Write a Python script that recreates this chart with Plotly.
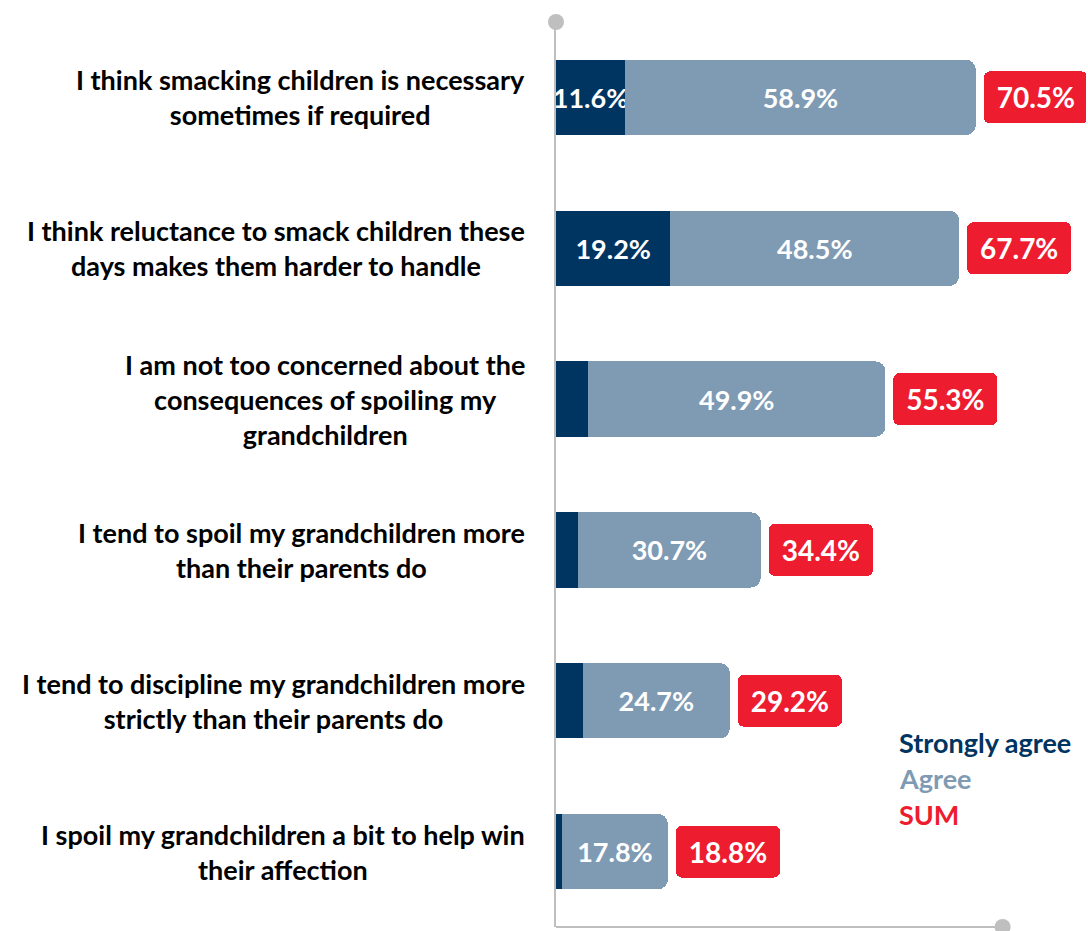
import plotly.graph_objects as go

# ---- data ----
categories = [
    "I think smacking children is necessary<br>sometimes if required",
    "I think reluctance to smack children these<br>days makes them harder to handle",
    "I am not too concerned about the<br>consequences of spoiling my<br>grandchildren",
    "I tend to spoil my grandchildren more<br>than their parents do",
    "I tend to discipline my grandchildren more<br>strictly than their parents do",
    "I spoil my grandchildren a bit to help win<br>their affection",
]
strongly_agree = [11.6, 19.2, 5.4, 3.7, 4.5, 1.0]
agree = [58.9, 48.5, 49.9, 30.7, 24.7, 17.8]
total = [70.5, 67.7, 55.3, 34.4, 29.2, 18.8]
sa_labels = ["11.6%", "19.2%", "", "", "", ""]
agree_labels = ["58.9%", "48.5%", "49.9%", "30.7%", "24.7%", "17.8%"]
sum_labels = ["70.5%", "67.7%", "55.3%", "34.4%", "29.2%", "18.8%"]
legend_items = ["Strongly agree", "Agree", "SUM"]

# ---- style ----
C_SA = "#003461"
C_AG = "#7F9BB4"
C_SUM = "#ED1C2E"
C_AXIS = "#BFBFBF"
FONT = "Lato"
FS = 27

W, H = 1088, 931
ML, MR, MT, MB = 556, 2, 22, 4
XMAX = 89.0
px_per_unit = (W - ML - MR) / XMAX
gap_units = 8 / px_per_unit
box_units = 104 / px_per_unit
axis_end = 75

ys = list(range(len(categories)))

fig = go.Figure()
fig.add_trace(go.Bar(
    y=ys, x=strongly_agree, orientation="h",
    marker=dict(color=C_SA, line=dict(width=0)), width=0.5,
    text=sa_labels, textposition="inside", insidetextanchor="middle",
    constraintext="none", textangle=0,
    textfont=dict(family=FONT, size=FS, color="white", weight="bold"),
    name="Strongly agree", hoverinfo="skip",
))
fig.add_trace(go.Bar(
    y=ys, x=agree, orientation="h",
    marker=dict(color=C_AG, line=dict(width=0)), width=0.5,
    text=agree_labels, textposition="inside", insidetextanchor="middle",
    constraintext="none", textangle=0,
    textfont=dict(family=FONT, size=FS, color="white", weight="bold"),
    name="Agree", hoverinfo="skip",
))
# SUM boxes on an overlaying axis so they don't affect the stack
fig.add_trace(go.Bar(
    y=ys, x=[box_units] * len(ys), base=[t + gap_units for t in total],
    orientation="h", yaxis="y2",
    marker=dict(color=C_SUM, line=dict(width=0), cornerradius=6), width=0.345,
    text=sum_labels, textposition="inside", insidetextanchor="middle",
    constraintext="none", textangle=0,
    textfont=dict(family=FONT, size=FS + 1, color="white", weight="bold"),
    name="SUM", hoverinfo="skip",
))

# category labels
for y, c in zip(ys, categories):
    fig.add_annotation(
        x=0, xref="paper", y=y, yref="y", text=c, showarrow=False,
        xanchor="right", yanchor="middle", align="center", xshift=-29,
        font=dict(family=FONT, size=FS, color="black", weight="bold"),
    )

# legend as text
leg_colors = [C_SA, C_AG, C_SUM]
plot_w = W - ML - MR
plot_h = H - MT - MB
for i, (t, col) in enumerate(zip(legend_items, leg_colors)):
    ypx = 742 + 36 * i
    fig.add_annotation(
        x=(897 - ML) / plot_w, xref="paper",
        y=(H - MB - ypx) / plot_h, yref="paper",
        text=t, showarrow=False, xanchor="left", yanchor="middle",
        font=dict(family=FONT, size=FS, color=col, weight="bold"),
    )

# axes decorations
end_paper = axis_end / XMAX
fig.add_shape(type="line", xref="paper", yref="paper", x0=0, x1=end_paper, y0=0, y1=0,
              line=dict(color=C_AXIS, width=2))
fig.add_shape(type="circle", xref="paper", yref="paper", xsizemode="pixel", ysizemode="pixel",
              xanchor=0, yanchor=1, x0=-8, x1=8, y0=-8, y1=8,
              fillcolor=C_AXIS, line=dict(width=0))
fig.add_shape(type="circle", xref="paper", yref="paper", xsizemode="pixel", ysizemode="pixel",
              xanchor=end_paper, yanchor=0, x0=-8, x1=8, y0=-8, y1=8,
              fillcolor=C_AXIS, line=dict(width=0))

yrange = [len(ys) - 0.5, -0.5]
fig.update_layout(
    width=W, height=H, margin=dict(l=ML, r=MR, t=MT, b=MB),
    barmode="stack", barcornerradius=10, showlegend=False,
    plot_bgcolor="white", paper_bgcolor="white",
    xaxis=dict(range=[0, XMAX], showgrid=False, zeroline=False, showticklabels=False,
               showline=False, fixedrange=True),
    yaxis=dict(range=yrange, showgrid=False, zeroline=False,
               showticklabels=False, showline=True, linecolor=C_AXIS, linewidth=2,
               fixedrange=True),
    yaxis2=dict(range=yrange, overlaying="y", showgrid=False, zeroline=False,
                showticklabels=False, showline=False, fixedrange=True),
)

fig.write_html("out.html", config={"displayModeBar": False},
               post_script="document.body.style.margin='0px';")
